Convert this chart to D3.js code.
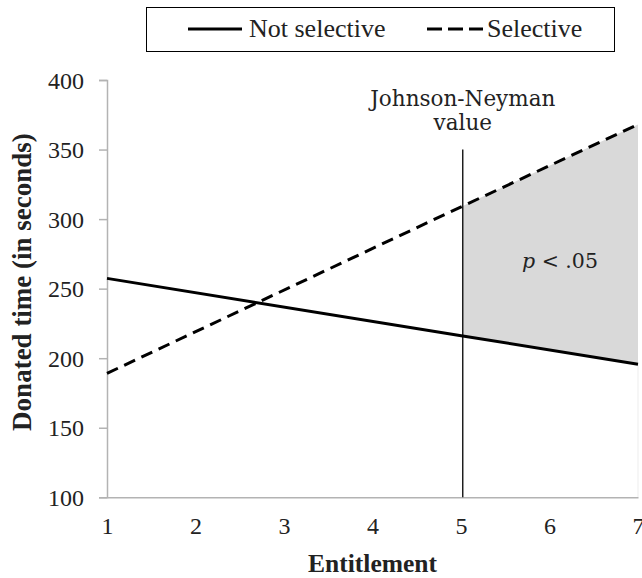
<!DOCTYPE html>
<html>
<head>
<meta charset="utf-8">
<script src="https://cdn.jsdelivr.net/npm/d3@7"></script>
<style>
  html, body { margin: 0; padding: 0; background: #fff; }
  svg { display: block; }
</style>
</head>
<body>
<svg id="chart" width="642" height="578"></svg>
<script>
// ---- Data ----
const xTicks = [1, 2, 3, 4, 5, 6, 7];
const yTicks = [100, 150, 200, 250, 300, 350, 400];
const entitlement = [1, 5.02, 7];
const notSelective = [257.4, 216.0, 195.6];
const selective = [189.1, 309.4, 368.0];
const jnValue = 5.02;
const jnLineTop = 350;
const seriesNames = ["Not selective", "Selective"];
const annotationLines = ["Johnson-Neyman", "value"];

// ---- Layout ----
const plot = { left: 107, right: 638, top: 80, bottom: 497.3 };
const serif = "Liberation Serif";
const annoFont = "DejaVu Serif";
const axisGray = "#b3b3b3";
const textColor = "#222";

const svg = d3.select("#chart");

const x = d3.scaleLinear().domain([1, 7]).range([plot.left, plot.right]);
const y = d3.scaleLinear().domain([100, 400]).range([plot.bottom, plot.top]);

const pts = (vals) => entitlement.map((e, i) => ({ x: e, y: vals[i] }));
const line = d3.line().x(d => x(d.x)).y(d => y(d.y));

// Shaded significance region (from JN value to 7, between the two lines)
const regionIdx = entitlement.map((e, i) => i).filter(i => entitlement[i] >= jnValue);
const area = d3.area()
  .x(i => x(entitlement[i]))
  .y0(i => y(notSelective[i]))
  .y1(i => y(selective[i]));
svg.append("path")
  .attr("d", area(regionIdx))
  .attr("fill", "#d9d9d9");

// faint right border below the shading
svg.append("line")
  .attr("x1", x(7)).attr("x2", x(7))
  .attr("y1", y(notSelective[notSelective.length - 1])).attr("y2", y(100))
  .attr("stroke", "#ededed").attr("stroke-width", 1);

// Y axis
const yAxis = d3.axisLeft(y).tickValues(yTicks).tickSize(8).tickPadding(15).tickFormat(d3.format("d"));
const gy = svg.append("g").attr("transform", `translate(${plot.left},0)`).call(yAxis);
gy.attr("font-family", serif).attr("font-size", 24);
gy.select(".domain").attr("stroke", axisGray).attr("stroke-width", 1.5);
gy.selectAll(".tick line").attr("stroke", axisGray).attr("stroke-width", 1.5);
gy.selectAll(".tick text")
  .attr("font-family", serif).attr("font-size", 24).attr("fill", textColor)
  .attr("dy", "0.34em");

// X axis
const xAxis = d3.axisBottom(x).tickValues(xTicks).tickSize(0).tickPadding(20).tickFormat(d3.format("d"));
const gx = svg.append("g").attr("transform", `translate(0,${plot.bottom})`).call(xAxis);
gx.attr("font-family", serif).attr("font-size", 24);
gx.select(".domain").attr("stroke", axisGray).attr("stroke-width", 1.5);
gx.selectAll(".tick text")
  .attr("font-family", serif).attr("font-size", 24).attr("fill", textColor);

// JN vertical line
svg.append("line")
  .attr("x1", x(jnValue)).attr("x2", x(jnValue))
  .attr("y1", y(jnLineTop)).attr("y2", y(100))
  .attr("stroke", "#000").attr("stroke-width", 1.3);

// Series lines
svg.append("path").datum(pts(notSelective))
  .attr("d", line).attr("fill", "none")
  .attr("stroke", "#000").attr("stroke-width", 3);
svg.append("path").datum(pts(selective))
  .attr("d", line).attr("fill", "none")
  .attr("stroke", "#000").attr("stroke-width", 3)
  .attr("stroke-dasharray", "12,7");

// Annotations
const anno = svg.append("text")
  .attr("font-family", annoFont).attr("font-size", 21.5).attr("fill", textColor)
  .attr("text-anchor", "middle");
annotationLines.forEach((t, i) => {
  anno.append("tspan").attr("x", x(jnValue)).attr("y", 106 + i * 24).text(t);
});

const pt = svg.append("text")
  .attr("font-family", annoFont).attr("font-size", 20.5).attr("fill", textColor)
  .attr("x", 522).attr("y", 268);
pt.append("tspan").attr("font-style", "italic").text("p");
pt.append("tspan").text(" < .05");

// Axis titles
svg.append("text")
  .attr("font-family", serif).attr("font-size", 25.5).attr("font-weight", "bold").attr("fill", textColor)
  .attr("text-anchor", "middle")
  .attr("x", 372.5).attr("y", 572)
  .text("Entitlement");

svg.append("text")
  .attr("font-family", serif).attr("font-size", 27).attr("font-weight", "bold").attr("fill", textColor)
  .attr("text-anchor", "middle")
  .attr("transform", `translate(31,282) rotate(-90)`)
  .text("Donated time (in seconds)");

// Legend
const lg = svg.append("g");
lg.append("rect").attr("x", 146.5).attr("y", 7.5).attr("width", 468).attr("height", 44)
  .attr("fill", "#fff").attr("stroke", "#000").attr("stroke-width", 1);
const legendItems = [
  { name: seriesNames[0], x1: 188, x2: 242, tx: 249, dash: null },
  { name: seriesNames[1], x1: 427, x2: 483, tx: 487, dash: "15,6" }
];
legendItems.forEach(it => {
  lg.append("line").attr("x1", it.x1).attr("x2", it.x2).attr("y1", 29).attr("y2", 29)
    .attr("stroke", "#000").attr("stroke-width", 3)
    .attr("stroke-dasharray", it.dash);
  lg.append("text").attr("x", it.tx).attr("y", 37)
    .attr("font-family", serif).attr("font-size", 26).attr("fill", textColor)
    .text(it.name);
});
</script>
</body>
</html>
